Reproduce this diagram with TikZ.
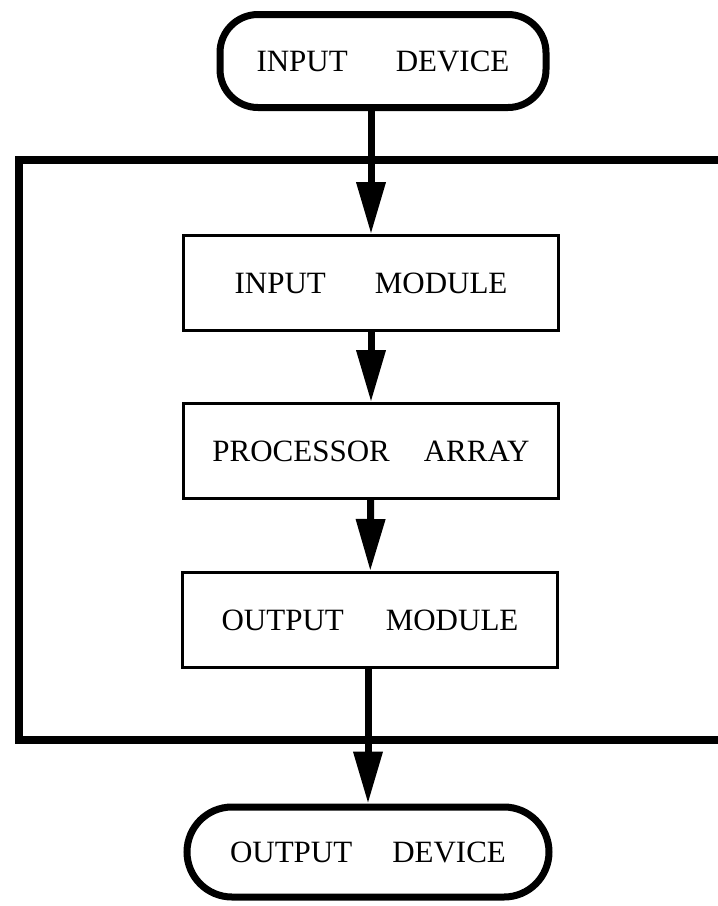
\documentclass[tikz,border=0pt]{standalone}
\usepackage{fontspec}
\setmainfont{Liberation Serif}
\usetikzlibrary{arrows.meta}

\tikzset{
  device/.style={draw, line width=7pt, rounded corners=38pt,
    minimum width=326pt, minimum height=93pt, inner sep=0pt},
  module/.style={draw, line width=3pt,
    minimum width=375pt, minimum height=95pt, inner sep=0pt},
  flow/.style={line width=7pt, -{Triangle[length=52pt,width=28pt]}},
}

\begin{document}
\begin{tikzpicture}[x=1pt, y=-1pt, font=\fontsize{31}{37}\selectfont]
\useasboundingbox (0,0) rectangle (718,906);

% frame round the machine, open on the right
\draw[line width=8pt] (730,160) -- (19,160) -- (19,740) -- (730,740);

\node[device] (idev) at (383,61) {INPUT\hspace{48pt}DEVICE};
\node[module] (imod) at (371,283) {INPUT\hspace{49pt}MODULE};
\node[module] (proc) at (371,451) {PROCESSOR\hspace{34pt}ARRAY};
\node[module] (omod) at (370,620) {OUTPUT\hspace{42pt}MODULE};
\node[device, minimum width=362pt, minimum height=90pt,
  rounded corners=45pt] (odev) at (368,852) {OUTPUT\hspace{40pt}DEVICE};

\draw[flow] (idev.south -| imod.north) -- (imod.north);
\draw[flow] (imod) -- (proc);
\draw[flow] (proc) -- (omod);
\draw[flow] (omod.south -| odev.north) -- (odev.north);
\end{tikzpicture}
\end{document}
